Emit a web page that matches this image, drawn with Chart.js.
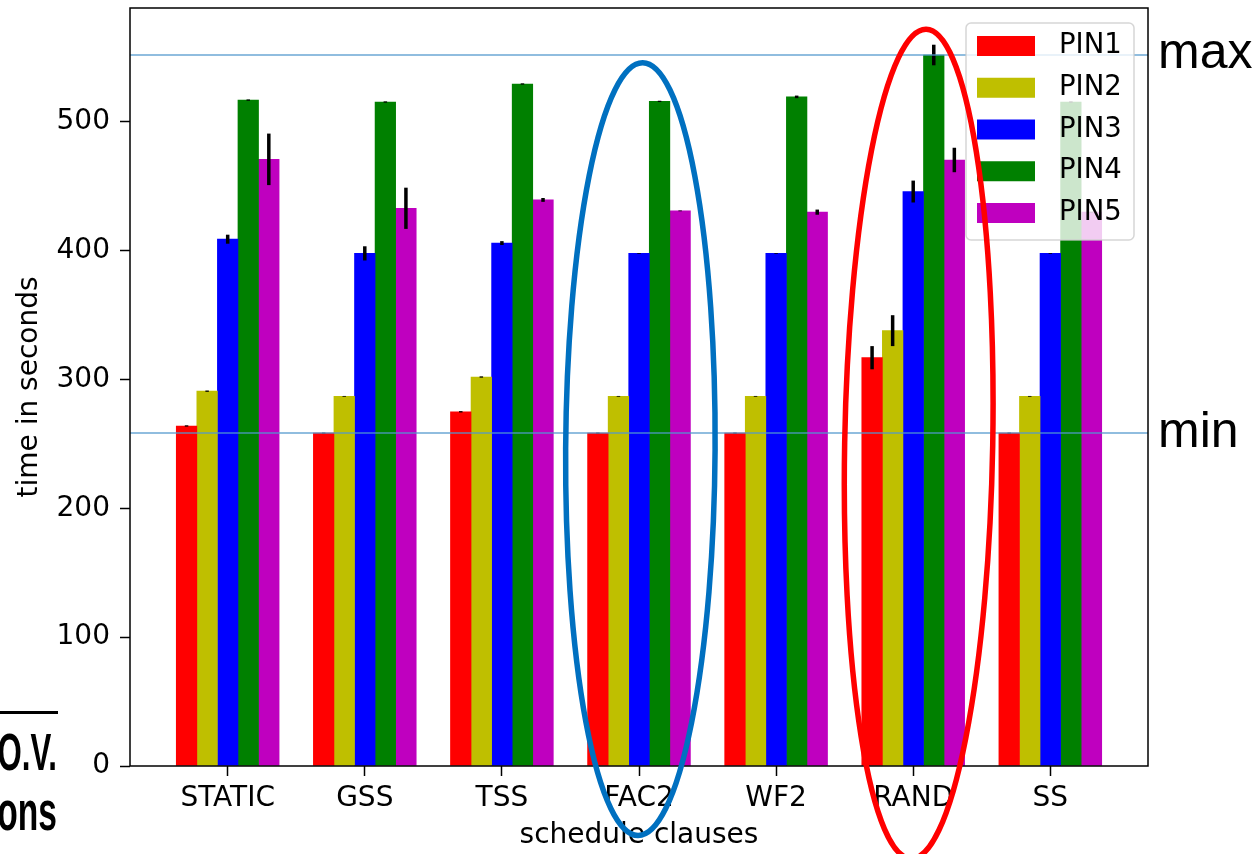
<!DOCTYPE html>
<html>
<head>
<meta charset="utf-8">
<script src="https://cdn.jsdelivr.net/npm/chart.js@4.4.0/dist/chart.umd.min.js"></script>
<style>
  html, body { margin: 0; padding: 0; background: #fff; }
  #wrap { width: 1260px; height: 854px; }
</style>
</head>
<body>
<div id="wrap"><canvas id="myChart" width="1260" height="854"></canvas></div>
<script>
const CLAUSES = ['STATIC', 'GSS', 'TSS', 'FAC2', 'WF2', 'RAND', 'SS'];
const SERIES = ['PIN1', 'PIN2', 'PIN3', 'PIN4', 'PIN5'];
const COLORS = ['#ff0000', '#bfbf00', '#0000ff', '#008000', '#bf00bf'];

// mean time in seconds per clause
const PIN1 = [264, 258.5, 275, 258.5, 258.5, 317, 258.5];
const PIN2 = [291, 287, 302, 287, 287, 338, 287];
const PIN3 = [409, 398, 406, 398, 398, 446, 398];
const PIN4 = [517, 515.5, 529.5, 516, 519.5, 552, 515.5];
const PIN5 = [471, 433, 439.5, 431, 430, 470.5, 430];

// half length of the error bars
const PIN1_ERR = [0.5, 0.3, 0.5, 0.3, 0.3, 9, 0.3];
const PIN2_ERR = [0.5, 0.3, 0.5, 0.3, 0.3, 12, 0.3];
const PIN3_ERR = [3.5, 5.5, 1.5, 0.3, 0.3, 8.5, 0.3];
const PIN4_ERR = [0.5, 0.5, 0.5, 0.5, 1, 8, 0.5];
const PIN5_ERR = [20, 16, 1.5, 0.3, 2, 9.5, 0.3];

const Y_TICKS = [0, 100, 200, 300, 400, 500];
const MAX_LINE = 552;
const MIN_LINE = 258.5;

const VALUES = [PIN1, PIN2, PIN3, PIN4, PIN5];
const ERRORS = [PIN1_ERR, PIN2_ERR, PIN3_ERR, PIN4_ERR, PIN5_ERR];

const BAR_W = 0.15;
const FONT = "'DejaVu Sans', sans-serif";
const tickFont = { family: FONT, size: 28 };

Chart.defaults.font.family = FONT;
Chart.defaults.color = '#000';

// ellipses drawn over the chart, in data units
const RINGS = [
  { cx: 3.01, cy: 246, rx: 0.545, ry: 300, rot: 0.006, color: '#0070c0' },
  { cx: 5.04, cy: 250, rx: 0.54, ry: 322, rot: 0.018, color: '#ff0000' }
];

const datasets = SERIES.map((name, s) => ({
  label: name,
  data: VALUES[s].map((v, i) => ({ x: i + (s - 2) * BAR_W, y: v })),
  err: ERRORS[s],
  backgroundColor: COLORS[s],
  grouped: false,
  barPercentage: 1,
  categoryPercentage: 1,
  borderWidth: 0
}));

const overlay = {
  id: 'overlay',
  afterDatasetsDraw(chart) {
    const { ctx, chartArea: a, scales: { y } } = chart;
    ctx.save();

    // error bars
    ctx.strokeStyle = '#000';
    ctx.lineWidth = 3.5;
    chart.data.datasets.forEach((ds, s) => {
      chart.getDatasetMeta(s).data.forEach((bar, i) => {
        const v = ds.data[i].y, e = ds.err[i];
        ctx.beginPath();
        ctx.moveTo(bar.x, y.getPixelForValue(v - e));
        ctx.lineTo(bar.x, y.getPixelForValue(v + e));
        ctx.stroke();
      });
    });

    // max / min lines
    ctx.strokeStyle = 'rgba(80,150,205,0.85)';
    ctx.lineWidth = 1.5;
    [MAX_LINE, MIN_LINE].forEach(v => {
      const py = y.getPixelForValue(v);
      ctx.beginPath();
      ctx.moveTo(a.left, py);
      ctx.lineTo(a.right, py);
      ctx.stroke();
    });

    // frame
    ctx.strokeStyle = '#000';
    ctx.lineWidth = 1.5;
    ctx.strokeRect(a.left, a.top, a.right - a.left, a.bottom - a.top);

    // legend box inside the axes
    const bx = a.right - 182, by = a.top + 15, bw = 168, bh = 217;
    ctx.beginPath();
    ctx.roundRect(bx, by, bw, bh, 5);
    ctx.fillStyle = 'rgba(255,255,255,0.8)';
    ctx.fill();
    ctx.strokeStyle = 'rgba(204,204,204,0.8)';
    ctx.lineWidth = 1.5;
    ctx.stroke();
    ctx.font = '27.5px ' + FONT;
    ctx.textBaseline = 'middle';
    chart.data.datasets.forEach((ds, s) => {
      const cy = by + 23 + s * 41.75;
      ctx.fillStyle = ds.backgroundColor;
      ctx.fillRect(bx + 11, cy - 10, 58, 20);
      ctx.fillStyle = '#000';
      ctx.fillText(ds.label, bx + 93, cy);
    });
    ctx.restore();
  },
  afterDraw(chart) {
    const { ctx, scales: { x, y } } = chart;
    ctx.save();

    // rings
    ctx.lineWidth = 5.5;
    RINGS.forEach(r => {
      const cx = x.getPixelForValue(r.cx), cy = y.getPixelForValue(r.cy);
      const rx = x.getPixelForValue(r.cx + r.rx) - cx;
      const ry = cy - y.getPixelForValue(r.cy + r.ry);
      ctx.strokeStyle = r.color;
      ctx.beginPath();
      ctx.ellipse(cx, cy, rx, ry, r.rot, 0, Math.PI * 2);
      ctx.stroke();
    });

    // labels next to the lines
    ctx.fillStyle = '#000';
    ctx.font = "50px 'Liberation Sans', Arial, sans-serif";
    ctx.textBaseline = 'alphabetic';
    ctx.fillText('max', chart.chartArea.right + 10, y.getPixelForValue(MAX_LINE) + 13);
    ctx.fillText('min', chart.chartArea.right + 10, y.getPixelForValue(MIN_LINE) + 14);

    // cut-off slide text on the left
    ctx.fillRect(0, 711, 58, 3);
    ctx.textAlign = 'right';
    ctx.save();
    ctx.translate(57, 770);
    ctx.scale(0.6, 1);
    ctx.font = "bold 52px 'Liberation Sans', Arial, sans-serif";
    ctx.fillText('O.V.', 0, 0);
    ctx.restore();
    ctx.save();
    ctx.translate(57, 830);
    ctx.scale(0.6, 1);
    ctx.font = "bold 56px 'Liberation Sans', Arial, sans-serif";
    ctx.fillText('ons', 0, 0);
    ctx.restore();

    ctx.restore();
  }
};

const config = {
  type: 'bar',
  data: { datasets },
  options: {
    responsive: false,
    animation: false,
    devicePixelRatio: 1,
    layout: { padding: { left: 0, right: 112, top: 8, bottom: 0 } },
    plugins: {
      legend: { display: false },
      tooltip: { enabled: false }
    },
    scales: {
      x: {
        type: 'linear',
        min: -0.7125,
        max: 6.7125,
        offset: false,
        afterBuildTicks: s => { s.ticks = CLAUSES.map((c, i) => ({ value: i })); },
        ticks: {
          callback: v => CLAUSES[v],
          font: tickFont,
          color: '#000',
          padding: 6,
          maxRotation: 0,
          autoSkip: false
        },
        grid: { offset: false, drawOnChartArea: false, drawTicks: true, tickLength: 10, tickColor: '#000', tickWidth: 1.5 },
        border: { display: false },
        title: {
          display: true,
          text: 'schedule clauses',
          font: tickFont,
          color: '#000',
          padding: { top: 0, bottom: 1 }
        },
        afterFit: s => { s.height = 88; s.paddingLeft = 0; s.paddingRight = 0; }
      },
      y: {
        min: 0,
        max: 588.5,
        afterBuildTicks: s => { s.ticks = Y_TICKS.map(v => ({ value: v })); },
        ticks: { font: tickFont, color: '#000', padding: 10 },
        grid: { drawOnChartArea: false, drawTicks: true, tickLength: 10, tickColor: '#000', tickWidth: 1.5 },
        border: { display: false },
        title: {
          display: true,
          text: 'time in seconds',
          font: tickFont,
          color: '#000',
          padding: { top: 13, bottom: 0 }
        },
        afterFit: s => { s.width = 130; s.paddingTop = 0; s.paddingBottom = 0; }
      }
    }
  },
  plugins: [overlay]
};

const myChart = new Chart(document.getElementById('myChart'), config);
</script>
</body>
</html>
